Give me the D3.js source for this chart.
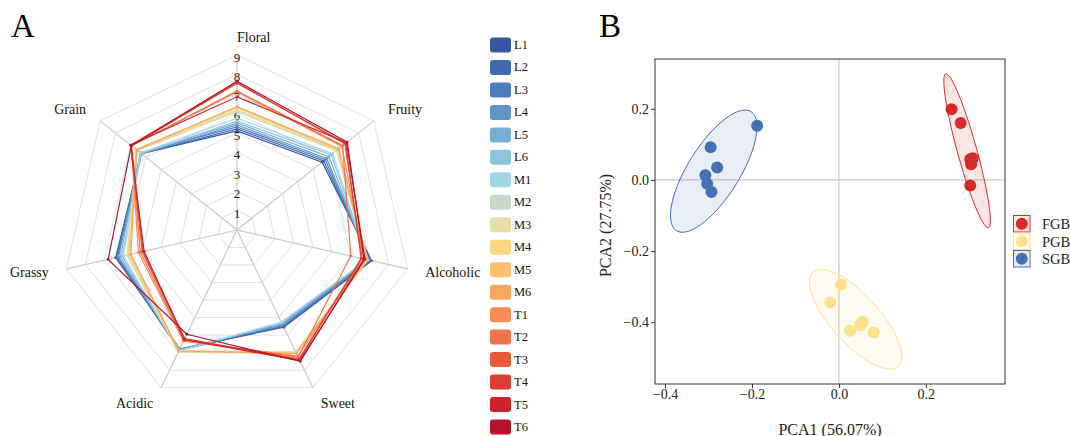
<!DOCTYPE html>
<html>
<head>
<meta charset="utf-8">
<script src="https://cdn.jsdelivr.net/npm/d3@7"></script>
<style>
  body { margin: 0; background: #fff; }
  text { font-family: "Liberation Serif", "Times New Roman", serif; }
</style>
</head>
<body>
<div id="chart"></div>
<script>
// ---------- data ----------
var attributes = ["Floral", "Fruity", "Alcoholic", "Sweet", "Acidic", "Grassy", "Grain"]
var radarTicks = [1, 2, 3, 4, 5, 6, 7, 8, 9]
var samples = ["L1", "L2", "L3", "L4", "L5", "L6", "M1", "M2", "M3", "M4", "M5", "M6", "T1", "T2", "T3", "T4", "T5", "T6"]
var sampleColors = ["#3a54a4", "#4169b0", "#4e7fbd", "#5d95c8", "#74aed3", "#8dc3dd", "#a6d6e6", "#c6d9c6", "#e8dca5", "#fbd685", "#fbbf6f", "#f9a55c", "#f78d52", "#f07349", "#e85a3c", "#dc3f31", "#cc2229", "#b5132a"]
// values in attribute order
var L1 = [5.10, 5.60, 7.10, 5.55, 6.80, 6.40, 6.30]
var L2 = [5.20, 5.70, 7.05, 5.50, 6.85, 6.35, 6.30]
var L3 = [5.30, 5.80, 7.00, 5.45, 6.85, 6.30, 6.35]
var L4 = [5.40, 5.90, 6.95, 5.40, 6.80, 6.25, 6.30]
var L5 = [5.50, 6.05, 6.90, 5.35, 6.85, 6.15, 6.35]
var L6 = [5.60, 6.20, 6.90, 5.30, 6.90, 6.05, 6.30]
var M1 = [5.75, 6.30, 6.85, 5.25, 6.90, 6.00, 6.35]
var M2 = [6.08, 6.55, 6.85, 6.95, 6.95, 5.80, 6.55]
var M3 = [6.15, 6.60, 6.90, 7.00, 6.95, 5.75, 6.60]
var M4 = [6.20, 6.60, 6.85, 7.00, 6.90, 5.70, 6.60]
var M5 = [6.30, 6.65, 6.90, 7.05, 6.95, 5.65, 6.65]
var M6 = [6.35, 6.70, 6.80, 7.05, 6.90, 5.60, 6.60]
var T1 = [7.10, 6.90, 6.70, 7.20, 6.35, 5.20, 6.95]
var T2 = [7.15, 6.95, 6.00, 7.25, 6.30, 5.10, 6.95]
var T3 = [7.60, 7.10, 6.60, 7.35, 6.25, 5.00, 7.00]
var T4 = [7.55, 7.15, 6.55, 7.40, 6.20, 4.95, 6.95]
var T5 = [6.85, 7.20, 6.75, 7.45, 6.25, 4.90, 7.00]
var T6 = [7.65, 7.25, 6.70, 7.50, 5.95, 6.80, 6.95]
var radarValues = [L1, L2, L3, L4, L5, L6, M1, M2, M3, M4, M5, M6, T1, T2, T3, T4, T5, T6]

// PCA scores
var groups = ["FGB", "PGB", "SGB"]
var groupColors = ["#d62c28", "#fee08d", "#4470b6"]
var fgbPCA1 = [0.259, 0.280, 0.302, 0.308, 0.304, 0.302]
var fgbPCA2 = [0.199, 0.160, 0.058, 0.061, 0.044, -0.016]
var pgbPCA1 = [0.005, -0.020, 0.055, 0.049, 0.026, 0.080]
var pgbPCA2 = [-0.295, -0.345, -0.399, -0.408, -0.424, -0.429]
var sgbPCA1 = [-0.188, -0.295, -0.280, -0.307, -0.303, -0.293]
var sgbPCA2 = [0.152, 0.092, 0.035, 0.013, -0.011, -0.034]
var pcaTicksX = [-0.4, -0.2, 0.0, 0.2]
var pcaTicksY = [-0.4, -0.2, 0.0, 0.2]

var width = 1070
var height = 436

var svg = d3.select("#chart")
  .append("svg")
  .attr("width", width)
  .attr("height", height)

svg.append("rect")
  .attr("width", width)
  .attr("height", height)
  .attr("fill", "#fff")

// ---------- panel A: radar ----------
var cx = 237
var cy = 230
var rScale = d3.scaleLinear().domain([0, 9]).range([0, 175])
var nAxes = attributes.length
var angle = i => -Math.PI / 2 + i * 2 * Math.PI / nAxes
var px = (i, v) => cx + rScale(v) * Math.cos(angle(i))
var py = (i, v) => cy + rScale(v) * Math.sin(angle(i))

var closedLine = d3.line()
  .x(d => d[0])
  .y(d => d[1])
  .curve(d3.curveLinearClosed)

var radar = svg.append("g").attr("class", "radar")

// grid rings
radar.selectAll(".ring")
  .data(radarTicks)
  .enter()
  .append("path")
  .attr("class", "ring")
  .attr("d", t => closedLine(attributes.map((a, i) => [px(i, t), py(i, t)])))
  .attr("fill", "none")
  .attr("stroke", "#e2e2e2")
  .attr("stroke-width", 1)

// spokes
radar.selectAll(".spoke")
  .data(attributes)
  .enter()
  .append("line")
  .attr("class", "spoke")
  .attr("x1", cx)
  .attr("y1", cy)
  .attr("x2", (d, i) => px(i, 9))
  .attr("y2", (d, i) => py(i, 9))
  .attr("stroke", "#c9c9c9")
  .attr("stroke-width", 1.2)

// tick values along Floral axis
radar.selectAll(".rtick")
  .data(radarTicks)
  .enter()
  .append("text")
  .attr("class", "rtick")
  .attr("x", cx)
  .attr("y", t => cy - rScale(t) + 2.5)
  .attr("text-anchor", "middle")
  .attr("dominant-baseline", "central")
  .style("font-size", "13px")
  .style("fill", "#222")
  .text(t => t)

// sample lines
var series = radar.selectAll(".series")
  .data(radarValues)
  .enter()
  .append("g")
  .attr("class", "series")

series.append("path")
  .attr("d", vals => closedLine(vals.map((v, i) => [px(i, v), py(i, v)])))
  .attr("fill", "none")
  .attr("stroke", (d, k) => sampleColors[k])
  .attr("stroke-width", 1.2)

series.selectAll("circle")
  .data((vals, k) => vals.map((v, i) => ({ i: i, v: v, k: k })))
  .enter()
  .append("circle")
  .attr("cx", d => px(d.i, d.v))
  .attr("cy", d => py(d.i, d.v))
  .attr("r", 1.4)
  .attr("fill", d => sampleColors[d.k])

// attribute labels
radar.selectAll(".alabel")
  .data(attributes)
  .enter()
  .append("text")
  .attr("class", "alabel")
  .attr("x", (d, i) => cx + 193 * Math.cos(angle(i)))
  .attr("y", (d, i) => cy + 193 * Math.sin(angle(i)))
  .attr("text-anchor", (d, i) => Math.cos(angle(i)) >= -1e-9 ? "start" : "end")
  .attr("dominant-baseline", "central")
  .style("font-size", "14px")
  .style("fill", "#111")
  .text(d => d)

// legend
var legA = svg.append("g").attr("class", "legend-a")
var legY = d3.scalePoint().domain(samples).range([45, 427])

legA.selectAll("rect")
  .data(samples)
  .enter()
  .append("rect")
  .attr("x", 490)
  .attr("y", d => legY(d) - 7.5)
  .attr("width", 21)
  .attr("height", 15)
  .attr("rx", 3)
  .attr("fill", (d, k) => sampleColors[k])

legA.selectAll("text")
  .data(samples)
  .enter()
  .append("text")
  .attr("x", 514)
  .attr("y", d => legY(d))
  .attr("dominant-baseline", "central")
  .style("font-size", "12.5px")
  .style("fill", "#111")
  .text(d => d)

svg.append("text")
  .attr("x", 11)
  .attr("y", 37)
  .style("font-size", "33px")
  .text("A")

// ---------- panel B: PCA ----------
var plotLeft = 655, plotRight = 1005, plotTop = 59, plotBottom = 384
var xScale = d3.scaleLinear().domain([-0.423, 0.382]).range([plotLeft, plotRight])
var yScale = d3.scaleLinear().domain([-0.574, 0.34]).range([plotBottom, plotTop])

var pcaData = [
  { group: "FGB", x: fgbPCA1, y: fgbPCA2 },
  { group: "PGB", x: pgbPCA1, y: pgbPCA2 },
  { group: "SGB", x: sgbPCA1, y: sgbPCA2 }
]

// robust t covariance (like MASS::cov.trob) for stat_ellipse type "t"
function covTrob(pts) {
  var nu = 5, p = 2, n = pts.length
  var loc = [d3.mean(pts, d => d[0]), d3.mean(pts, d => d[1])]
  var w = pts.map(() => 1)
  var X
  for (var it = 0; it < 25; it++) {
    var w0 = w.slice()
    X = pts.map(d => [d[0] - loc[0], d[1] - loc[1]])
    var sw = d3.sum(w)
    var a = 0, b = 0, c = 0
    X.forEach((r, j) => {
      a += w[j] * r[0] * r[0] / sw
      b += w[j] * r[0] * r[1] / sw
      c += w[j] * r[1] * r[1] / sw
    })
    var det = a * c - b * b
    w = X.map(r => {
      var q = (c * r[0] * r[0] - 2 * b * r[0] * r[1] + a * r[1] * r[1]) / det
      return (nu + p) / (nu + q)
    })
    var ws = d3.sum(w)
    loc = [d3.sum(pts, (d, j) => w[j] * d[0]) / ws, d3.sum(pts, (d, j) => w[j] * d[1]) / ws]
    if (w.every((v, j) => Math.abs(v - w0[j]) < 0.01)) break
  }
  var s11 = 0, s12 = 0, s22 = 0
  X.forEach((r, j) => {
    s11 += w[j] * r[0] * r[0] / n
    s12 += w[j] * r[0] * r[1] / n
    s22 += w[j] * r[1] * r[1] / n
  })
  return { loc: loc, cov: [s11, s12, s22] }
}

function ellipsePoints(xs, ys, level) {
  var pts = xs.map((v, j) => [v, ys[j]])
  var fit = covTrob(pts)
  var dfd = pts.length - 1
  // F quantile with 2 numerator df has a closed form
  var qf = dfd / 2 * (Math.pow(1 - level, -2 / dfd) - 1)
  var radius = Math.sqrt(2 * qf)
  var ca = Math.sqrt(fit.cov[0])
  var cb = fit.cov[1] / ca
  var cc = Math.sqrt(fit.cov[2] - cb * cb)
  return d3.range(0, 52).map(k => {
    var t = k * 2 * Math.PI / 51
    return [fit.loc[0] + radius * Math.cos(t) * ca,
            fit.loc[1] + radius * (Math.cos(t) * cb + Math.sin(t) * cc)]
  })
}

var pca = svg.append("g").attr("class", "pca")

pca.append("clipPath")
  .attr("id", "clip-b")
  .append("rect")
  .attr("x", plotLeft)
  .attr("y", plotTop)
  .attr("width", plotRight - plotLeft)
  .attr("height", plotBottom - plotTop)

// zero lines
pca.append("line")
  .attr("x1", xScale(0)).attr("x2", xScale(0))
  .attr("y1", plotTop).attr("y2", plotBottom)
  .attr("stroke", "#bdbdbd").attr("stroke-width", 1)
pca.append("line")
  .attr("x1", plotLeft).attr("x2", plotRight)
  .attr("y1", yScale(0)).attr("y2", yScale(0))
  .attr("stroke", "#bdbdbd").attr("stroke-width", 1)

var plotG = pca.append("g").attr("clip-path", "url(#clip-b)")

var ellLine = d3.line()
  .x(d => xScale(d[0]))
  .y(d => yScale(d[1]))
  .curve(d3.curveLinearClosed)

plotG.selectAll(".ellipse")
  .data(pcaData)
  .enter()
  .append("path")
  .attr("class", "ellipse")
  .attr("d", d => ellLine(ellipsePoints(d.x, d.y, 0.95)))
  .attr("fill", (d, k) => groupColors[k])
  .attr("fill-opacity", 0.12)
  .attr("stroke", (d, k) => groupColors[k])
  .attr("stroke-width", 1)

pcaData.forEach((g, k) => {
  plotG.selectAll(".pt-" + g.group)
    .data(g.x.map((v, j) => [v, g.y[j]]))
    .enter()
    .append("circle")
    .attr("class", "pt-" + g.group)
    .attr("cx", d => xScale(d[0]))
    .attr("cy", d => yScale(d[1]))
    .attr("r", 6)
    .attr("fill", groupColors[k])
})

// frame
pca.append("rect")
  .attr("x", plotLeft)
  .attr("y", plotTop)
  .attr("width", plotRight - plotLeft)
  .attr("height", plotBottom - plotTop)
  .attr("fill", "none")
  .attr("stroke", "#333")
  .attr("stroke-width", 1)

var fmt = d3.format(".1f")
var xAxis = d3.axisBottom(xScale).tickValues(pcaTicksX).tickFormat(fmt).tickSize(4).tickPadding(1)
var yAxis = d3.axisLeft(yScale).tickValues(pcaTicksY).tickFormat(fmt).tickSize(4).tickPadding(2)

pca.append("g")
  .attr("transform", `translate(0,${plotBottom})`)
  .call(xAxis)
  .call(g => g.select(".domain").remove())
  .call(g => g.selectAll("line").attr("stroke", "#333"))
  .selectAll("text")
  .style("font-family", "Liberation Serif")
  .style("font-size", "14px")
  .style("fill", "#222")

pca.append("g")
  .attr("transform", `translate(${plotLeft},0)`)
  .call(yAxis)
  .call(g => g.select(".domain").remove())
  .call(g => g.selectAll("line").attr("stroke", "#333"))
  .selectAll("text")
  .style("font-family", "Liberation Serif")
  .style("font-size", "14px")
  .style("fill", "#222")

pca.append("text")
  .attr("x", (plotLeft + plotRight) / 2)
  .attr("y", 435)
  .attr("text-anchor", "middle")
  .style("font-size", "16px")
  .style("fill", "#222")
  .text("PCA1 (56.07%)")

pca.append("text")
  .attr("transform", `translate(611,${(plotTop + plotBottom) / 2 + 4}) rotate(-90)`)
  .attr("text-anchor", "middle")
  .style("font-size", "16px")
  .style("fill", "#222")
  .text("PCA2 (27.75%)")

// legend B
var legB = pca.append("g").attr("class", "legend-b")
var keyY = d3.scalePoint().domain(groups).range([223.5, 258.5])

legB.selectAll("rect")
  .data(groups)
  .enter()
  .append("rect")
  .attr("x", 1013.5)
  .attr("y", d => keyY(d) - 8)
  .attr("width", 16.5)
  .attr("height", 16.5)
  .attr("fill", (d, k) => groupColors[k])
  .attr("fill-opacity", 0.12)
  .attr("stroke", (d, k) => groupColors[k])
  .attr("stroke-width", 1)

legB.selectAll("circle")
  .data(groups)
  .enter()
  .append("circle")
  .attr("cx", 1021.8)
  .attr("cy", d => keyY(d) + 0.25)
  .attr("r", 6)
  .attr("fill", (d, k) => groupColors[k])

legB.selectAll("text")
  .data(groups)
  .enter()
  .append("text")
  .attr("x", 1042)
  .attr("y", d => keyY(d) + 0.5)
  .attr("dominant-baseline", "central")
  .style("font-size", "14.5px")
  .style("fill", "#222")
  .text(d => d)

svg.append("text")
  .attr("x", 599)
  .attr("y", 37)
  .style("font-size", "33px")
  .text("B")
</script>
</body>
</html>
